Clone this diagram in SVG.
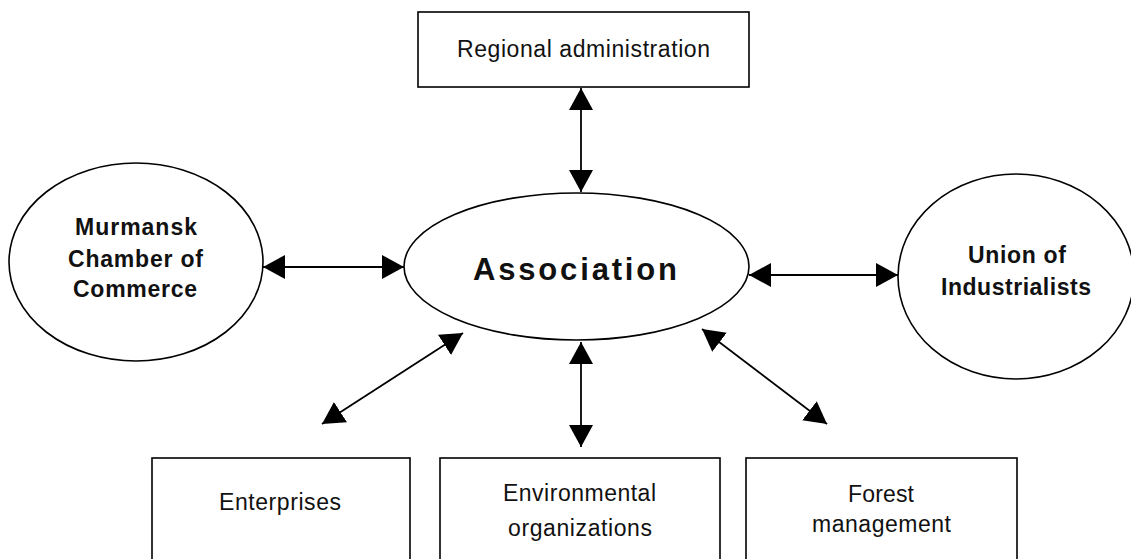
<svg xmlns="http://www.w3.org/2000/svg" width="1131" height="559" viewBox="0 0 1131 559">
<style>
.box{fill:#fff;stroke:#000;stroke-width:1.6}
.ell{fill:#fff;stroke:#000;stroke-width:1.6}
.t{font-family:"Liberation Sans",Arial,sans-serif;font-size:23px;fill:#111;text-anchor:middle}
.b{font-family:"Liberation Sans",Arial,sans-serif;font-size:23px;font-weight:bold;fill:#111;text-anchor:middle}
.big{font-size:31px}
.c{stroke:#000;stroke-width:1.8;fill:none;marker-start:url(#ah);marker-end:url(#ah)}
</style>
<defs>
<marker id="ah" markerUnits="userSpaceOnUse" markerWidth="24" markerHeight="26" refX="22" refY="12" orient="auto-start-reverse" viewBox="0 0 24 24">
<path d="M0,0 L22,12 L0,24 z" fill="#000"/>
</marker>
</defs>
<rect width="1131" height="559" fill="#fff"/>
<g id="connectors">
<line class="c" x1="581" y1="88" x2="581" y2="192"/>
<line class="c" x1="263" y1="267" x2="404" y2="267"/>
<line class="c" x1="749" y1="275" x2="898" y2="275"/>
<line class="c" x1="322" y1="424" x2="463" y2="333"/>
<line class="c" x1="581" y1="342" x2="581" y2="447"/>
<line class="c" x1="702" y1="329" x2="827" y2="424"/>
</g>
<g id="regional">
<rect class="box" x="418" y="12" width="331" height="75"/>
<text class="t" x="583.5" y="57" textLength="253" lengthAdjust="spacing">Regional administration</text>
</g>
<g id="association">
<ellipse class="ell" cx="576.5" cy="266.5" rx="172.5" ry="73.5"/>
<text class="b big" x="575" y="280" textLength="204" lengthAdjust="spacing">Association</text>
</g>
<g id="murmansk">
<ellipse class="ell" cx="136" cy="262" rx="127" ry="99"/>
<text class="b" x="136" y="235" textLength="122" lengthAdjust="spacing">Murmansk</text>
<text class="b" x="135.5" y="267" textLength="135" lengthAdjust="spacing">Chamber of</text>
<text class="b" x="135" y="297" textLength="124" lengthAdjust="spacing">Commerce</text>
</g>
<g id="union">
<ellipse class="ell" cx="1016" cy="276.5" rx="118" ry="102.5"/>
<text class="b" x="1017" y="263" textLength="98" lengthAdjust="spacing">Union of</text>
<text class="b" x="1016" y="295" textLength="150" lengthAdjust="spacing">Industrialists</text>
</g>
<g id="enterprises">
<rect class="box" x="152" y="458" width="258" height="130"/>
<text class="t" x="280" y="510" textLength="122" lengthAdjust="spacing">Enterprises</text>
</g>
<g id="environmental">
<rect class="box" x="440" y="458" width="280" height="130"/>
<text class="t" x="579.5" y="501" textLength="153" lengthAdjust="spacing">Environmental</text>
<text class="t" x="580" y="536" textLength="144" lengthAdjust="spacing">organizations</text>
</g>
<g id="forest">
<rect class="box" x="746" y="458" width="271" height="130"/>
<text class="t" x="881" y="502" textLength="66" lengthAdjust="spacing">Forest</text>
<text class="t" x="881.5" y="532" textLength="139" lengthAdjust="spacing">management</text>
</g>
</svg>
